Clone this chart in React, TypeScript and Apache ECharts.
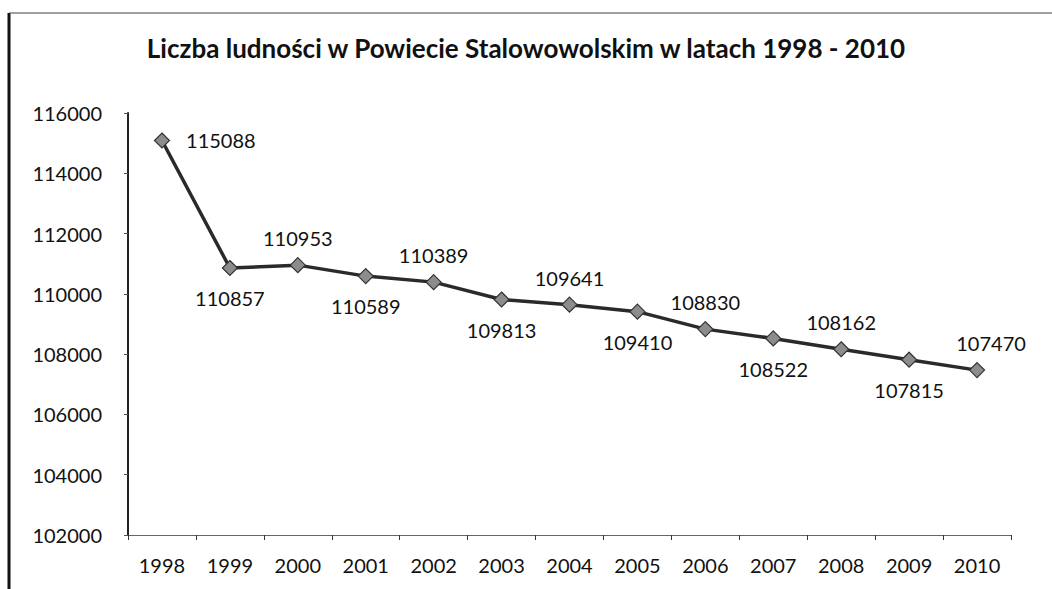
import React, { useEffect, useRef } from "react";
import * as echarts from "echarts";

const titleText = "Liczba ludności w Powiecie Stalowowolskim w latach 1998 - 2010";
const years = ["1998", "1999", "2000", "2001", "2002", "2003", "2004", "2005", "2006", "2007", "2008", "2009", "2010"];
const population = [115088, 110857, 110953, 110589, 110389, 109813, 109641, 109410, 108830, 108522, 108162, 107815, 107470];
const labelSide = ["right", "bottom", "top", "bottom", "top", "bottom", "top", "bottom", "top", "bottom", "top", "bottom", "top"];
const yMin = 102000;
const yMax = 116000;
const yStep = 2000;

const FONT = "Lato, 'Noto Sans', sans-serif";

export default function App() {
  const ref = useRef<HTMLDivElement>(null);
  useEffect(() => {
    if (!ref.current) return;
    const chart = echarts.init(ref.current, undefined, { renderer: "svg" });
    const data = population.map((v, i) => {
      const side = labelSide[i];
      return {
        value: v,
        label: {
          position: side,
          distance: side === "right" ? 16 : side === "top" ? 9 : 12,
          offset: i === years.length - 1 ? [14, 0] : [0, 0],
        },
      };
    });
    chart.setOption({
      animation: false,
      backgroundColor: "#ffffff",
      title: {
        text: titleText,
        left: "center",
        top: 30,
        textStyle: { fontFamily: FONT, fontWeight: "bold", fontSize: 26, color: "#111" },
      },
      grid: { left: 128, right: 41, top: 113, bottom: 54, containLabel: false },
      xAxis: {
        type: "category",
        data: years,
        boundaryGap: true,
        axisLine: { show: true, lineStyle: { color: "#666", width: 1 } },
        axisTick: { show: true, inside: false, length: 5, lineStyle: { color: "#333" } },
        axisLabel: { fontFamily: FONT, fontSize: 20, color: "#111", margin: 20 },
        splitLine: { show: false },
      },
      yAxis: {
        type: "value",
        min: yMin,
        max: yMax,
        interval: yStep,
        axisLine: { show: true, lineStyle: { color: "#222", width: 2 } },
        axisTick: { show: true, length: 4, lineStyle: { color: "#555" } },
        axisLabel: { fontFamily: FONT, fontSize: 20, color: "#111", margin: 26, formatter: (v: number) => String(v) },
        splitLine: { show: false },
      },
      graphic: [
        { type: "line", shape: { x1: 9, y1: 13, x2: 9, y2: 589 }, style: { stroke: "#111", lineWidth: 3 } },
        { type: "line", shape: { x1: 9, y1: 13, x2: 1052, y2: 13 }, style: { stroke: "#444", lineWidth: 1.2 } },
      ],
      series: [
        {
          type: "line",
          data,
          symbol: "diamond",
          symbolSize: 15,
          lineStyle: { color: "#2a2a2a", width: 3.5 },
          itemStyle: { color: "#8c8c8c", borderColor: "#333", borderWidth: 1.2 },
          label: { show: true, fontFamily: FONT, fontSize: 20, color: "#111" },
        },
      ],
    });
    return () => chart.dispose();
  }, []);
  return <div ref={ref} style={{ width: 1052, height: 589, position: "absolute", left: 0, top: 0 }} />;
}
